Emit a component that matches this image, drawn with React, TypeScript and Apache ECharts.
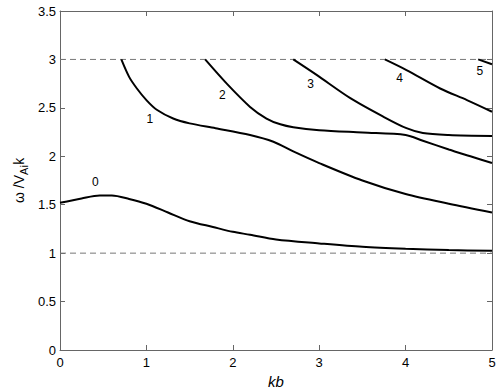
import React, { useEffect, useRef } from "react";
import * as echarts from "echarts";

const xTicks = [0, 1, 2, 3, 4, 5];
const yTicks = [0, 0.5, 1, 1.5, 2, 2.5, 3, 3.5];

const mode0 = [[0, 1.52], [0.25, 1.565], [0.46, 1.595], [0.6, 1.595], [0.8, 1.56], [1.0, 1.51], [1.25, 1.42], [1.5, 1.33], [1.77, 1.27], [2.0, 1.22], [2.2, 1.19], [2.5, 1.14], [3.0, 1.10], [3.5, 1.065], [4.0, 1.045], [4.5, 1.032], [5.0, 1.025]];
const mode1 = [[0.71, 3.0], [0.8, 2.82], [0.89, 2.70], [1.0, 2.58], [1.12, 2.48], [1.31, 2.39], [1.5, 2.34], [1.8, 2.29], [2.2, 2.22], [2.47, 2.15], [2.7, 2.05], [3.0, 1.93], [3.5, 1.75], [4.0, 1.61], [4.5, 1.51], [5.0, 1.42]];
const mode2 = [[1.68, 3.0], [1.93, 2.75], [2.2, 2.51], [2.39, 2.39], [2.55, 2.33], [2.7, 2.30], [3.0, 2.27], [3.5, 2.245], [4.0, 2.22], [4.2, 2.16], [4.5, 2.07], [4.75, 2.0], [5.0, 1.93]];
const mode3 = [[2.70, 3.0], [2.97, 2.84], [3.36, 2.60], [3.74, 2.41], [4.01, 2.29], [4.2, 2.24], [4.5, 2.22], [5.0, 2.21]];
const mode4 = [[3.76, 3.0], [4.01, 2.89], [4.4, 2.70], [4.71, 2.58], [5.0, 2.46]];
const mode5 = [[4.84, 3.0], [5.0, 2.95]];
const modes = [mode0, mode1, mode2, mode3, mode4, mode5];

const modeLabels = [[0.41, 1.73, "0"], [1.04, 2.38, "1"], [1.88, 2.63, "2"], [2.9, 2.745, "3"], [3.93, 2.81, "4"], [4.86, 2.88, "5"]];
const refLevels = [1, 3];

const yTitleMain = "ω /V";
const yTitleSub = "Ai";
const yTitleEnd = "k";
const xTitle = "kb";

const FONT = "Liberation Sans, Arial, sans-serif";

function measure(text: string, font: string): number {
  const c = document.createElement("canvas").getContext("2d");
  if (!c) return text.length * 7;
  c.font = font;
  return c.measureText(text).width;
}

export default function App() {
  const ref = useRef<HTMLDivElement>(null);
  useEffect(() => {
    const chart = echarts.init(ref.current!, null, { renderer: "svg" });
    const axisTick = { show: true, inside: true, length: 5, lineStyle: { color: "#666" } };
    const axisLine = { show: true, onZero: false, lineStyle: { color: "#666", width: 1 } };
    const lineSeries: any[] = modes.map((m) => ({
      type: "line",
      data: m,
      smooth: 0.3,
      showSymbol: false,
      symbol: "none",
      lineStyle: { color: "#000", width: 2 },
      z: 3,
    }));
    const refSeries: any[] = refLevels.map((v) => ({
      type: "line",
      data: [[0, v], [5, v]],
      showSymbol: false,
      symbol: "none",
      lineStyle: { color: "#777", width: 1, type: [6, 4] },
      z: 2,
    }));
    const mainFont = `14px ${FONT}`;
    const subFont = `11px ${FONT}`;
    const w1 = measure(yTitleMain, mainFont);
    const w2 = measure(yTitleSub, subFont);
    chart.setOption({
      animation: false,
      backgroundColor: "#fff",
      grid: { left: 60, right: 6, top: 11, bottom: 39, outerBoundsMode: "none", containLabel: false },
      xAxis: [
        {
          type: "value",
          min: 0,
          max: 5,
          interval: 1,
          position: "bottom",
          axisLine,
          axisTick,
          splitLine: { show: false },
          axisLabel: { color: "#000", fontSize: 13, fontFamily: FONT, margin: 6 },
          name: xTitle,
          nameLocation: "middle",
          nameGap: 22,
          nameTextStyle: { color: "#000", fontSize: 15, fontStyle: "italic", fontFamily: FONT },
        },
        {
          type: "value",
          min: 0,
          max: 5,
          interval: 1,
          position: "top",
          axisLine,
          axisTick,
          splitLine: { show: false },
          axisLabel: { show: false },
        },
      ],
      yAxis: [
        {
          type: "value",
          min: 0,
          max: 3.5,
          interval: 0.5,
          position: "left",
          axisLine,
          axisTick,
          splitLine: { show: false },
          axisLabel: { color: "#000", fontSize: 13, fontFamily: FONT, margin: 4 },
        },
        {
          type: "value",
          min: 0,
          max: 3.5,
          interval: 0.5,
          position: "right",
          axisLine,
          axisTick,
          splitLine: { show: false },
          axisLabel: { show: false },
        },
      ],
      graphic: [
        {
          type: "group",
          x: 23,
          y: 203,
          rotation: Math.PI / 2,
          children: [
            { type: "text", x: 0, y: 3, style: { text: yTitleMain, font: mainFont, fill: "#000", verticalAlign: "bottom" } },
            { type: "text", x: w1, y: 6.5, style: { text: yTitleSub, font: subFont, fill: "#000", verticalAlign: "bottom" } },
            { type: "text", x: w1 + w2 + 0.5, y: 3, style: { text: yTitleEnd, font: mainFont, fill: "#000", verticalAlign: "bottom" } },
          ],
        },
      ],
      series: [
        ...refSeries,
        ...lineSeries,
        {
          type: "scatter",
          data: modeLabels,
          symbolSize: 0,
          silent: true,
          itemStyle: { color: "#000", opacity: 1 },
          label: {
            show: true,
            position: "top",
            distance: 0,
            verticalAlign: "middle",
            align: "center",
            formatter: (p: any) => p.value[2],
            color: "#000",
            textBorderWidth: 0,
            textShadowBlur: 0,
            fontSize: 12,
            fontFamily: FONT,
          },
          z: 4,
        },
      ],
    });
    return () => chart.dispose();
  }, []);
  return <div ref={ref} style={{ width: 498, height: 389, position: "absolute", left: 0, top: 0 }} />;
}
